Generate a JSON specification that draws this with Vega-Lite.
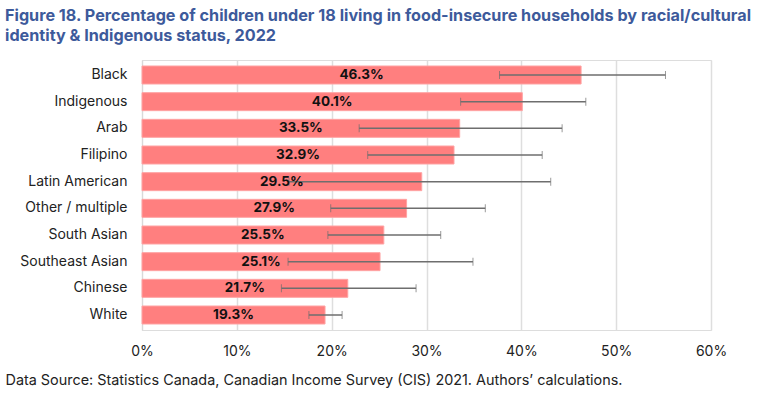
{
  "$schema": "https://vega.github.io/schema/vega-lite/v6.json",
  "autosize": {"type": "none"},
  "width": 569,
  "height": 270,
  "padding": {"left": 142, "top": 60, "right": 57, "bottom": 66},
  "background": "white",
  "title": {
    "text": ["Figure 18. Percentage of children under 18 living in food-insecure households by racial/cultural", "identity & Indigenous status, 2022"],
    "anchor": "start",
    "frame": "group",
    "dx": -137,
    "offset": 16,
    "font": "Inter",
    "fontSize": 16.2,
    "fontWeight": "bold",
    "color": "#3d5a9b",
    "lineHeight": 20
  },
  "data": {
    "values": [
      {"group": "Black", "value": 46.3, "lo": 37.7, "hi": 55.2},
      {"group": "Indigenous", "value": 40.1, "lo": 33.6, "hi": 46.8},
      {"group": "Arab", "value": 33.5, "lo": 22.9, "hi": 44.3},
      {"group": "Filipino", "value": 32.9, "lo": 23.8, "hi": 42.2},
      {"group": "Latin American", "value": 29.5, "lo": 15.5, "hi": 43.1},
      {"group": "Other / multiple", "value": 27.9, "lo": 19.9, "hi": 36.2},
      {"group": "South Asian", "value": 25.5, "lo": 19.6, "hi": 31.5},
      {"group": "Southeast Asian", "value": 25.1, "lo": 15.4, "hi": 34.9},
      {"group": "Chinese", "value": 21.7, "lo": 14.7, "hi": 28.9},
      {"group": "White", "value": 19.3, "lo": 17.6, "hi": 21.1}
    ]
  },
  "encoding": {
    "y": {
      "field": "group",
      "type": "nominal",
      "sort": null,
      "scale": {"paddingInner": 0.325, "paddingOuter": 0.225},
      "axis": {
        "title": null,
        "ticks": false,
        "domain": true,
        "domainColor": "#d9d9d9",
        "labelPadding": 15,
        "labelFont": "Inter",
        "labelFontSize": 14,
        "labelColor": "#222222"
      }
    }
  },
  "layer": [
    {
      "mark": {"type": "bar", "color": "#ff7f7f", "stroke": "#ffa3a3", "strokeWidth": 1},
      "encoding": {
        "x": {
          "field": "value",
          "type": "quantitative",
          "title": "Data Source: Statistics Canada, Canadian Income Survey (CIS) 2021. Authors\u2019 calculations.",
          "scale": {"domain": [0, 60], "nice": false},
          "axis": {
            "values": [0, 10, 20, 30, 40, 50, 60],
            "labelExpr": "datum.value + '%'",
            "labelFlush": false,
            "grid": true,
            "gridColor": "#dedede",
            "gridWidth": 1.5,
            "domain": false,
            "ticks": false,
            "labelPadding": 14,
            "labelFont": "Inter",
            "labelFontSize": 14,
            "labelColor": "#222222",
            "titleAnchor": "start",
            "titleAlign": "left",
            "titleX": -137,
            "titleY": 43,
            "titleFont": "Inter",
            "titleFontSize": 14.4,
            "titleFontWeight": "normal",
            "titleColor": "#222222"
          }
        }
      }
    },
    {
      "mark": {"type": "errorbar", "ticks": {"size": 8, "color": "#6e6e6e", "strokeWidth": 1.5}, "rule": {"color": "#6e6e6e", "strokeWidth": 1.5}},
      "encoding": {
        "x": {"field": "lo", "type": "quantitative", "title": "Data Source: Statistics Canada, Canadian Income Survey (CIS) 2021. Authors\u2019 calculations."},
        "x2": {"field": "hi"}
      }
    },
    {
      "transform": [
        {"calculate": "datum.value / 2", "as": "mid"},
        {"calculate": "format(datum.value, '.1f') + '%'", "as": "label"}
      ],
      "mark": {"type": "text", "font": "Inter", "fontSize": 13.5, "fontWeight": "bold", "color": "#111111", "align": "center", "baseline": "middle"},
      "encoding": {
        "x": {"field": "mid", "type": "quantitative", "title": "Data Source: Statistics Canada, Canadian Income Survey (CIS) 2021. Authors\u2019 calculations."},
        "text": {"field": "label", "type": "nominal"}
      }
    }
  ]
}
